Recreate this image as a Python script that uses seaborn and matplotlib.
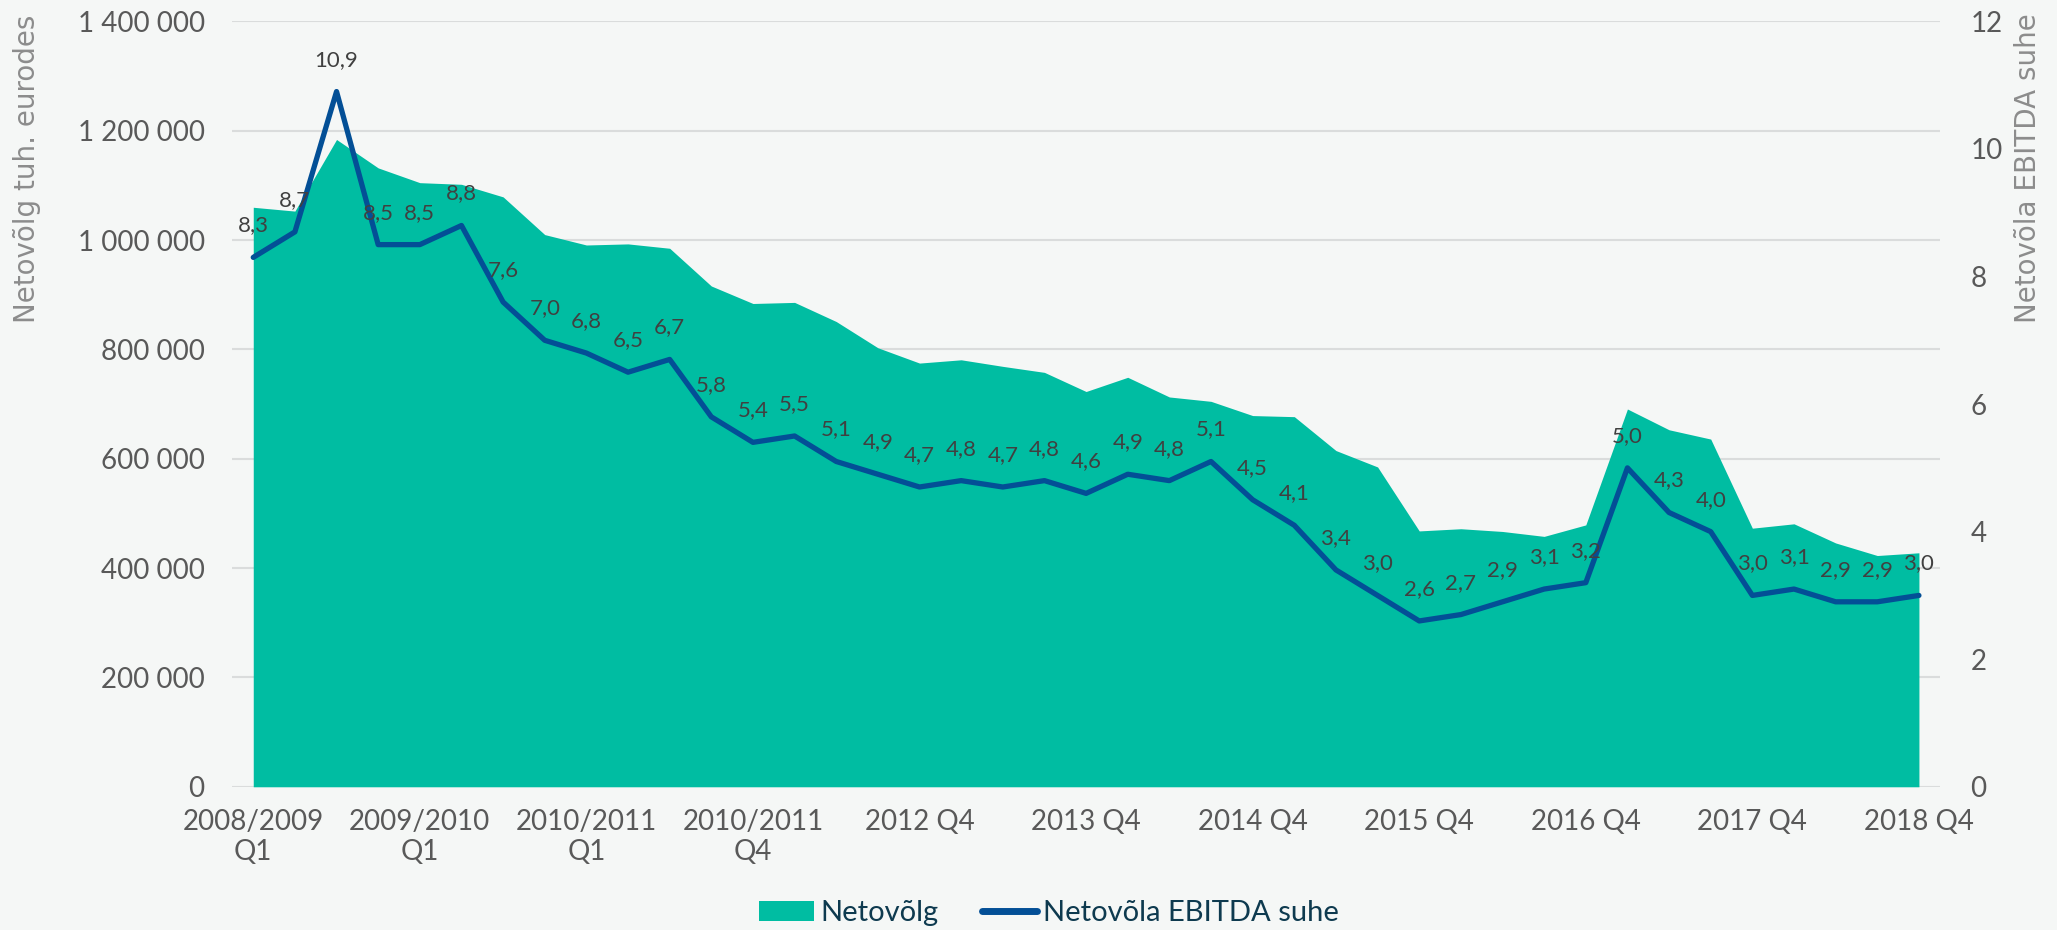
import numpy as np
import pandas as pd
import seaborn as sns
import matplotlib.pyplot as plt
from matplotlib.patches import Patch
from matplotlib.lines import Line2D

# -------------------------------------------------
# Andmed
# -------------------------------------------------
net_debt = [1060, 1053, 1184, 1132, 1105, 1102, 1079, 1010, 991, 993,
            985, 916, 884, 886, 851, 803, 775, 781, 769, 758,
            723, 749, 713, 705, 679, 677, 615, 585, 468, 472,
            467, 458, 479, 691, 653, 636, 473, 481, 446, 423, 428]
net_debt = [v * 1000 for v in net_debt]

ratio = [8.3, 8.7, 10.9, 8.5, 8.5, 8.8, 7.6, 7.0, 6.8, 6.5,
         6.7, 5.8, 5.4, 5.5, 5.1, 4.9, 4.7, 4.8, 4.7, 4.8,
         4.6, 4.9, 4.8, 5.1, 4.5, 4.1, 3.4, 3.0, 2.6, 2.7,
         2.9, 3.1, 3.2, 5.0, 4.3, 4.0, 3.0, 3.1, 2.9, 2.9, 3.0]

tick_pos = [0, 4, 8, 12, 16, 20, 24, 28, 32, 36, 40]
tick_labels = ["2008/2009\nQ1", "2009/2010\nQ1", "2010/2011\nQ1", "2010/2011\nQ4",
               "2012 Q4", "2013 Q4", "2014 Q4", "2015 Q4", "2016 Q4", "2017 Q4", "2018 Q4"]

left_ticks = [0, 200000, 400000, 600000, 800000, 1000000, 1200000, 1400000]
right_ticks = [0, 2, 4, 6, 8, 10, 12]

df = pd.DataFrame({"x": np.arange(len(ratio)), "debt": net_debt, "ratio": ratio})

# -------------------------------------------------
# Stiil
# -------------------------------------------------
BG = "#F5F7F6"
TEAL = "#00BDA2"
BLUE = "#034F96"
GRID = "#DADCDC"
TICK = "#595959"

sns.set_theme(style="white")
plt.rcParams["font.family"] = ["Lato", "DejaVu Sans"]

fig = plt.figure(figsize=(20.57, 9.30), dpi=100, facecolor=BG)
ax = fig.add_axes([0.113, 0.154, 0.830, 0.823])
ax.set_facecolor(BG)

# Netovõlg (pindala)
ax.fill_between(df["x"], 0, df["debt"], color=TEAL, linewidth=0, zorder=2)
ax.set_ylim(0, 1400000)
ax.set_xlim(-0.5, 40.5)
ax.set_yticks(left_ticks)
ax.set_yticklabels([f"{v:,}".replace(",", " ") for v in left_ticks])
ax.set_xticks(tick_pos)
ax.set_xticklabels(tick_labels)
ax.grid(axis="y", color=GRID, linewidth=1.5, zorder=1)
ax.grid(axis="x", visible=False)
ax.tick_params(axis="y", length=0, pad=20, labelsize=20, labelcolor=TICK)
ax.tick_params(axis="x", length=0, pad=16, labelsize=20, labelcolor=TICK)
for s in ax.spines.values():
    s.set_visible(False)

# Netovõla EBITDA suhe (joon)
ax2 = ax.twinx()
sns.lineplot(data=df, x="x", y="ratio", ax=ax2, color=BLUE, linewidth=3.8, zorder=3)
ax2.set_ylim(0, 12)
ax2.set_yticks(right_ticks)
ax2.tick_params(axis="y", length=0, pad=22, labelsize=20, labelcolor=TICK)
ax2.set_ylabel("")
ax2.set_xlabel("")
ax2.grid(False)
for s in ax2.spines.values():
    s.set_visible(False)
ax.set_xlabel("")

for i, r in enumerate(ratio):
    ax2.annotate(f"{r:.1f}".replace(".", ","), (i, r), xytext=(0, 23),
                 textcoords="offset points", ha="center", va="center",
                 fontsize=16, color="#404040", zorder=4)

# Teljepealkirjad
fig.text(0.013, 0.984, "Netovõlg tuh. eurodes", rotation=90, ha="center", va="top",
         fontsize=20, color="#8C8C8C", family="DejaVu Sans")
fig.text(0.986, 0.986, "Netovõla EBITDA suhe", rotation=90, ha="center", va="top",
         fontsize=20, color="#8C8C8C", family="DejaVu Sans")

# Legend
handles = [Patch(facecolor=TEAL, edgecolor="none"),
           Line2D([0], [0], color=BLUE, linewidth=5)]
fig.legend(handles, ["Netovõlg", "Netovõla EBITDA suhe"], loc="center",
           bbox_to_anchor=(0.51, 0.018), ncol=2, frameon=False, fontsize=21,
           labelcolor="#0E3A4F", handlelength=1.9, handletextpad=0.2, columnspacing=1.5)

fig.savefig("out.png", dpi=100, facecolor=BG)
